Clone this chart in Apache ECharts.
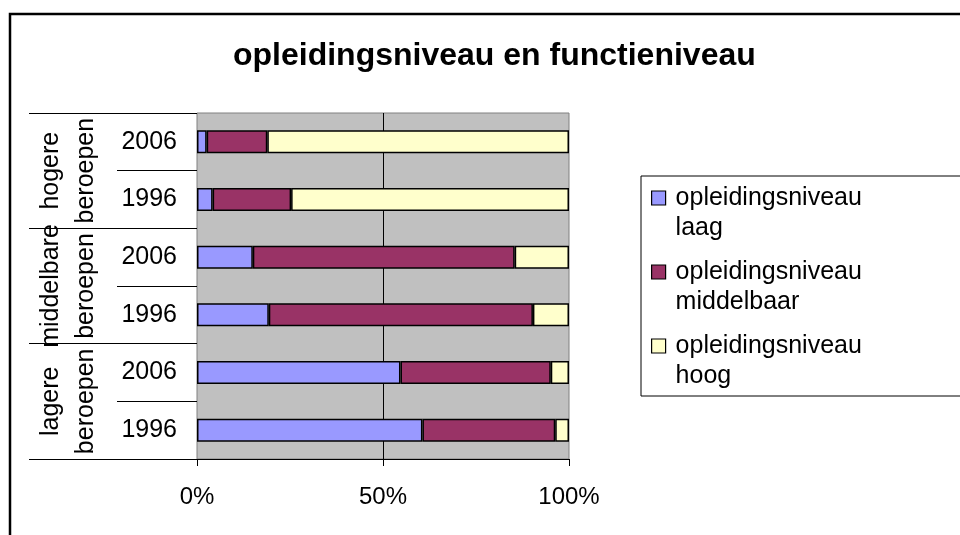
<!DOCTYPE html>
<html>
<head>
<meta charset="utf-8">
<script src="https://cdn.jsdelivr.net/npm/echarts@6/dist/echarts.min.js"></script>
<style>
  html, body { margin: 0; padding: 0; background: #fff; }
  #main { width: 960px; height: 535px; }
</style>
</head>
<body>
<div id="main"></div>
<script>
// rows from top to bottom
const years = ['2006', '1996', '2006', '1996', '2006', '1996']
const groups = ['hogere\nberoepen', 'middelbare\nberoepen', 'lagere\nberoepen']
const laag = [2.6, 4.2, 15.0, 19.3, 54.7, 60.6]
const middelbaar = [16.3, 21.1, 70.4, 71.0, 40.4, 35.7]
const hoog = [81.1, 74.7, 14.6, 9.7, 4.9, 3.7]
const seriesNames = ['opleidingsniveau laag', 'opleidingsniveau middelbaar', 'opleidingsniveau hoog']
const colors = ['#9999ff', '#993366', '#ffffcc']
const xTicks = [0, 50, 100]

const font = "'Liberation Sans', Arial, sans-serif"
const chart = echarts.init(document.getElementById('main'))

const bar = (name, data, color) => ({
  name: name,
  type: 'bar',
  stack: 'total',
  barWidth: '40%',
  data: data,
  itemStyle: { color: color, borderColor: '#000', borderWidth: 1.5 },
  emphasis: { disabled: true }
})

const option = {
  animation: false,
  textStyle: { fontFamily: font, color: '#000' },
  title: {
    text: 'opleidingsniveau en functieniveau',
    left: 233,
    top: 40,
    padding: 0,
    textStyle: { fontFamily: font, fontSize: 32, fontWeight: 'bold', color: '#000' }
  },
  legend: {
    orient: 'vertical',
    left: 641,
    top: 176,
    padding: [7, 300, 5, 10],
    itemGap: 14,
    itemWidth: 14,
    itemHeight: 44,
    borderColor: '#000',
    borderWidth: 1,
    // square in the top of a tall icon box, so it sits beside the first text line
    icon: 'path://M0,0h14v14h-14zM0,44',
    itemStyle: { borderColor: '#000', borderWidth: 1.2 },
    formatter: name => name.replace(' ', '\n'),
    textStyle: { fontFamily: font, fontSize: 25, color: '#000', lineHeight: 30, padding: [0, 0, 0, 5] },
    data: seriesNames
  },
  grid: {
    left: 197,
    top: 113,
    width: 372,
    height: 346,
    show: true,
    backgroundColor: '#c0c0c0',
    borderColor: '#808080',
    borderWidth: 1
  },
  xAxis: {
    type: 'value',
    min: xTicks[0],
    max: xTicks[xTicks.length - 1],
    interval: xTicks[1] - xTicks[0],
    axisLine: { show: true, lineStyle: { color: '#000', width: 1 } },
    axisTick: { show: true, length: 7, lineStyle: { color: '#000' } },
    axisLabel: { formatter: '{value}%', fontSize: 24, color: '#000', margin: 26, fontFamily: font },
    splitLine: { show: true, showMinLine: false, showMaxLine: false, lineStyle: { color: '#000', width: 1 } }
  },
  yAxis: [
    {
      type: 'category',
      inverse: true,
      data: years,
      axisLine: { show: false },
      axisTick: { show: true, length: 80, lineStyle: { color: '#000' } },
      axisLabel: { interval: 0, fontSize: 25, color: '#000', margin: 20, fontFamily: font },
      splitLine: { show: false }
    },
    {
      type: 'category',
      inverse: true,
      position: 'left',
      data: groups,
      axisLine: { show: false },
      axisTick: { show: true, length: 168, lineStyle: { color: '#000' } },
      axisLabel: { interval: 0, rotate: 90, fontSize: 25, lineHeight: 35, color: '#000', margin: 93, fontFamily: font },
      splitLine: { show: false }
    }
  ],
  graphic: [
    {
      type: 'rect',
      silent: true,
      shape: { x: 10, y: 14, width: 1000, height: 600 },
      style: { fill: 'none', stroke: '#000', lineWidth: 2.5 }
    }
  ],
  series: [
    bar(seriesNames[0], laag, colors[0]),
    bar(seriesNames[1], middelbaar, colors[1]),
    bar(seriesNames[2], hoog, colors[2])
  ]
}
option && chart.setOption(option)
</script>
</body>
</html>
